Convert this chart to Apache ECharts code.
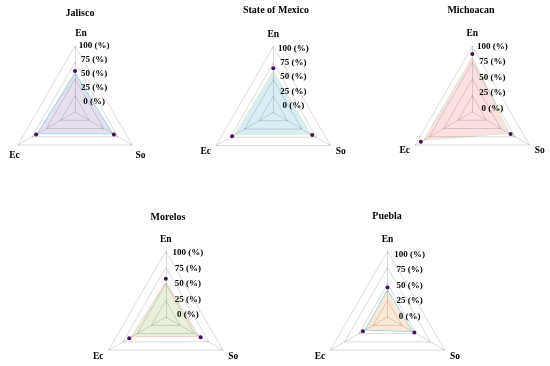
<!DOCTYPE html>
<html>
<head>
<meta charset="utf-8">
<script src="https://cdn.jsdelivr.net/npm/echarts@6/dist/echarts.min.js"></script>
<style>
html,body{margin:0;padding:0;background:#fff;}
#chart{width:550px;height:366px;}
</style>
</head>
<body>
<div id="chart"></div>
<script>
// ---------- data ----------
const indicatorNames = ['En', 'Ec', 'So'];
const stateTitles = ['Jalisco', 'State of Mexico', 'Michoacan', 'Morelos', 'Puebla'];
const axisMin = 0;
const axisMax = 100;
const axisSplits = 4;
const tickSuffix = ' (%)';

const jaliscoArea = [58, 65, 65];
const jaliscoPoints = [62, 68, 68];
const mexicoArea = [62, 67, 65];
const mexicoPoints = [67, 72, 68];
const michoacanArea = [82, 84, 64];
const michoacanPoints = [88, 90, 67];
const morelosArea = [52, 59, 57];
const morelosPoints = [58, 64, 61];
const pueblaArea = [40, 38, 43];
const pueblaPoints = [45, 43, 47];

const areaSets = [jaliscoArea, mexicoArea, michoacanArea, morelosArea, pueblaArea];
const pointSets = [jaliscoPoints, mexicoPoints, michoacanPoints, morelosPoints, pueblaPoints];

// ---------- layout & style ----------
const FONT = '"Liberation Serif", "Times New Roman", serif';
const layout = [
  { cx: 75,    cy: 112,   r: 66, tx: 80,  ty: 8,   lcy: 102,   lr: 56,   ldx: 19, shift: true },
  { cx: 273.3, cy: 112.5, r: 66, tx: 276, ty: 5,   lcy: 106,   lr: 57.7, ldx: 20 },
  { cx: 472.3, cy: 112,   r: 66, tx: 471, ty: 5,   lcy: 108.3, lr: 61.6, ldx: 20 },
  { cx: 165.8, cy: 317.1, r: 66, tx: 168, ty: 212, lcy: 314.7, lr: 61.7, ldx: 22 },
  { cx: 387.5, cy: 317.1, r: 66, tx: 387, ty: 211, lcy: 316.3, lr: 61.6, ldx: 22 }
];
const fills = ['#e7dfef', '#d8eef5', '#fbe0e0', '#e8f0da', '#fde8d6'];
const outlines = ['#86d5e8', '#e4edbc', '#d5e8c4', '#f3c3c3', '#86d5e8'];
const markerColor = '#4a0d5c';
const gridColor = 'rgba(0,0,0,0.14)';

const nameBase = { color: '#000', fontFamily: FONT, fontSize: 9.5, fontWeight: 'bold' };
const jaliscoNameRich = {
  en: Object.assign({ padding: [0, 0, 0, 12] }, nameBase),
  ec: Object.assign({ padding: [10, 0, 0, 14] }, nameBase),
  so: Object.assign({ padding: [10, 4, 0, 0] }, nameBase)
};

const radars = [];
const titles = [];
const series = [];

layout.forEach(function (L, i) {
  const axisName = Object.assign({ align: 'center', verticalAlign: 'middle' }, nameBase);
  if (L.shift) {
    axisName.formatter = function (n) { return '{' + n.toLowerCase() + '|' + n + '}'; };
    axisName.rich = jaliscoNameRich;
  }
  radars.push({
    center: [L.cx, L.cy],
    radius: L.r,
    shape: 'polygon',
    startAngle: 90,
    splitNumber: axisSplits,
    nameGap: 12,
    indicator: indicatorNames.map(function (n) { return { name: n, min: axisMin, max: axisMax }; }),
    axisName: axisName,
    axisLine: { show: true, lineStyle: { color: gridColor, width: 1 } },
    splitLine: { show: true, lineStyle: { color: gridColor, width: 1 } },
    splitArea: { show: false },
    axisTick: { show: false },
    axisLabel: { show: false }
  });
  titles.push({
    text: stateTitles[i],
    left: L.tx, top: L.ty,
    textAlign: 'center',
    padding: 0,
    textStyle: { fontFamily: FONT, fontSize: 10, fontWeight: 'bold', color: '#000' }
  });
});

// label-only radars (tick labels of the En axis)
layout.forEach(function (L) {
  radars.push({
    center: [L.cx, L.lcy],
    radius: L.lr,
    shape: 'polygon',
    startAngle: 90,
    splitNumber: axisSplits,
    indicator: indicatorNames.map(function (n, k) {
      const ind = { name: n, min: axisMin, max: axisMax };
      if (k === 0) {
        ind.axisLabel = {
          show: true,
          formatter: '{value}' + tickSuffix,
          margin: -L.ldx,
          align: 'center',
          verticalAlign: 'middle',
          color: '#000', fontFamily: FONT, fontSize: 9, fontWeight: 'bold'
        };
      }
      return ind;
    }),
    axisName: { show: false },
    axisLine: { show: false },
    splitLine: { show: false },
    splitArea: { show: false },
    axisTick: { show: false },
    axisLabel: { show: false },
    silent: true
  });
});

areaSets.forEach(function (vals, i) {
  series.push({
    type: 'radar',
    radarIndex: i,
    z: -1,
    symbol: 'none',
    silent: true,
    lineStyle: { color: outlines[i], width: 1.5 },
    areaStyle: { color: fills[i], opacity: 1 },
    data: [{ value: vals }]
  });
  series.push({
    type: 'radar',
    radarIndex: i,
    z: 3,
    symbol: 'circle',
    symbolSize: 4,
    silent: true,
    itemStyle: { color: markerColor },
    lineStyle: { width: 0, opacity: 0 },
    data: [{ value: pointSets[i] }]
  });
});

const chart = echarts.init(document.getElementById('chart'), null, { renderer: 'canvas' });
chart.setOption({
  animation: false,
  backgroundColor: '#fff',
  title: titles,
  radar: radars,
  series: series
});
</script>
</body>
</html>
